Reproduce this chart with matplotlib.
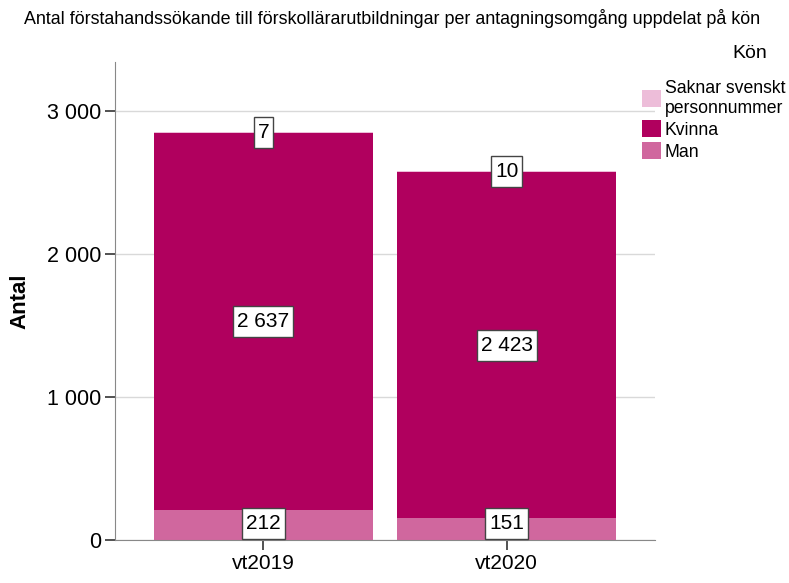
import matplotlib
matplotlib.use("Agg")
import matplotlib.pyplot as plt
from matplotlib.patches import Patch, Rectangle

categories = ["vt2019", "vt2020"]
man = [212, 151]
kvinna = [2637, 2423]
saknar = [7, 10]
series_names = ["Man", "Kvinna", "Saknar svenskt\npersonnummer"]
colors = ["#D0679E", "#B0005E", "#EDBDD9"]
yticks = [0, 1000, 2000, 3000]
ytick_labels = ["0", "1 000", "2 000", "3 000"]

plt.rcParams['font.family'] = ['Liberation Sans', 'DejaVu Sans']

fig = plt.figure(figsize=(7.89, 5.83), dpi=100)
ax = fig.add_axes([115/789, 43/583, 540/789, 478/583])

x = list(range(len(categories)))
width = 0.9
bottoms = [0] * len(categories)
series = [man, kvinna, saknar]
texts = []
for vals, col in zip(series, colors):
    ax.bar(x, vals, width=width, bottom=bottoms, color=col, edgecolor='none', zorder=2)
    for xi, v, b in zip(x, vals, bottoms):
        lbl = f"{v:,}".replace(",", " ")
        t = ax.text(xi, b + v / 2, lbl, ha='center', va='center', fontsize=15, zorder=6)
        texts.append(t)
    bottoms = [b + v for b, v in zip(bottoms, vals)]

ax.set_xlim(-0.61, 1.61)
ax.set_ylim(0, 3343)
ax.set_yticks(yticks)
ax.set_yticklabels(ytick_labels, fontsize=15.5)
ax.set_xticks(x)
ax.set_xticklabels(categories, fontsize=15)
ax.yaxis.grid(True, color='#d9d9d9', linewidth=1, zorder=0)
ax.set_axisbelow(True)
for s in ['top', 'right']:
    ax.spines[s].set_visible(False)
ax.spines['left'].set_color('#888888')
ax.spines['bottom'].set_color('#888888')
ax.tick_params(axis='both', length=7, width=1.2, color='#333333', pad=3)
ax.set_ylabel("Antal", fontsize=16, fontweight='bold', labelpad=12)

fig.text(0.497, 1 - 18/583, "Antal förstahandssökande till förskollärarutbildningar per antagningsomgång uppdelat på kön",
         ha='center', va='center', fontsize=12.9)
fig.text(767/789, 1 - 53/583, "Kön", ha='right', va='center', fontsize=14)

handles = [Patch(facecolor=c, edgecolor='none') for c in colors[::-1]]
leg = fig.legend(handles, series_names[::-1], loc='upper left', bbox_to_anchor=(642/789, 1 - 80/583),
                 frameon=False, fontsize=12.7, handlelength=1.1, handleheight=1.1, handletextpad=0.2,
                 labelspacing=0.2, borderpad=0, borderaxespad=0)

# label boxes sized like the reference
fig.canvas.draw()
r = fig.canvas.get_renderer()
axis_y = ax.transData.transform((0, 0))[1]
for t in texts:
    bb = t.get_window_extent(r)
    cx = (bb.x0 + bb.x1) / 2
    cy = (bb.y0 + bb.y1) / 2
    w = bb.width + 8
    h = 31
    if cy - h / 2 < axis_y + 1:
        cy = axis_y + 1 + h / 2
    fig.patches.append(Rectangle((cx - w / 2, cy - h / 2), w, h, transform=None,
                                 facecolor='white', edgecolor='#444444', linewidth=1, zorder=5))
    t.remove()
    fig.text(cx, cy, t.get_text(), transform=None, ha='center', va='center', fontsize=15, zorder=7)
fig.savefig("out.png", dpi=100)
